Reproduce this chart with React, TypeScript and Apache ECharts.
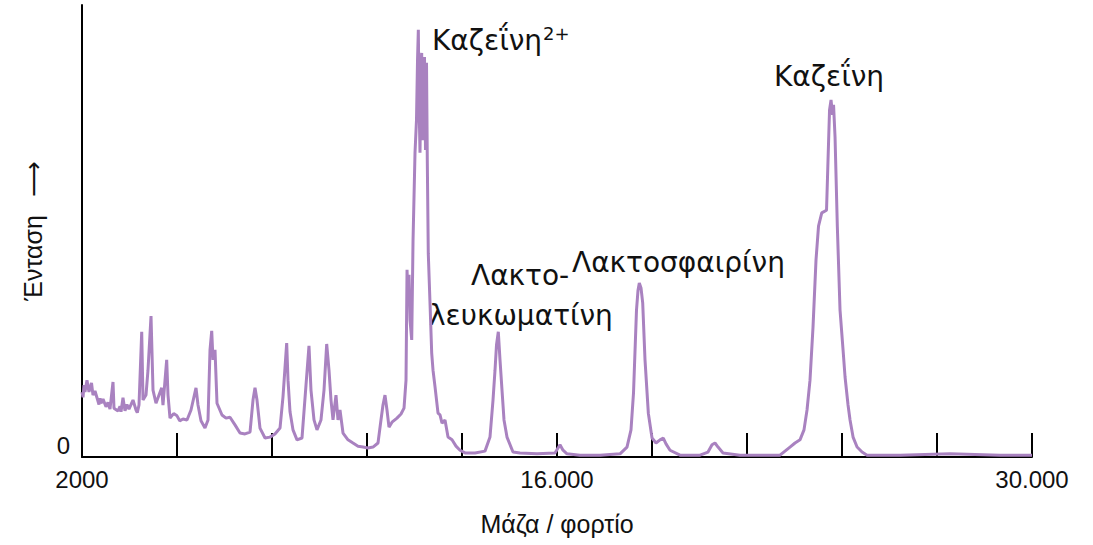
import React, { useEffect, useRef } from "react";
import * as echarts from "echarts";

const massValues = [
  2000, 2030, 2059, 2088, 2147, 2206, 2280, 2324, 2383, 2442, 2500, 2530, 2560, 2620, 2707, 2766, 2825, 2914, 2943, 3061, 3120, 3150, 3208, 3267,
  3325, 3385, 3503, 3592, 3630, 3680, 3760, 3798, 3886, 3945, 4034, 4093, 4181, 4270, 4349, 4387, 4496, 4535,
  4594, 4700, 4800, 4880, 4977, 5095, 5213, 5360, 5419, 5507, 5625, 5714, 5773, 5823, 5861, 5920, 5979, 6126,
  6244, 6362, 6509, 6657, 6804, 6952, 7040, 7099, 7158, 7246, 7394, 7541, 7688, 7836, 7924, 8033,
  8072, 8131, 8219, 8337, 8484, 8602, 8690, 8749, 8838, 8926, 9044, 9133, 9212, 9280, 9339, 9398,
  9486, 9545, 9604, 9693, 9840, 9987, 10135, 10282, 10429, 10577, 10724, 10812, 10871, 10930, 10989,
  11048, 11137, 11284, 11402, 11491, 11550, 11580, 11609, 11639, 11668, 11718, 11757, 11815, 11859,
  11889, 11913, 11933, 11962, 11992, 12012, 12036, 12065, 12095, 12124, 12154, 12177, 12206, 12257,
  12307, 12346, 12405, 12493, 12552, 12611, 12699, 12788, 12906, 13023, 13141, 13289, 13583, 13878,
  14025, 14114, 14173, 14217, 14270, 14320, 14379, 14438, 14526, 14703, 14909, 15410, 15941, 16088,
  16177, 16295, 16678, 17267, 17857, 18063, 18181, 18255, 18343, 18388, 18426, 18476, 18526, 18594,
  18692, 18801, 18918, 19036, 19133, 19213, 19331, 19626, 20215, 20451, 20569, 20657, 20746, 20893,
  21394, 22573, 22867, 23015, 23162, 23280, 23369, 23457, 23546, 23634, 23708, 23803, 23944, 23988,
  24033, 24077, 24121, 24151, 24195, 24263, 24342, 24431, 24490, 24578, 24637, 24726, 24844, 24991,
  25138, 26111, 27584, 29057, 30000,
];

const intensityValues = [
  14.4, 13.2, 15.9, 14.4, 17.0, 14.4, 16.4, 13.7, 14.6, 13.1, 11.6, 13.0, 11.9, 12.8, 11.1, 12.1, 10.6, 16.6, 10.8, 10.2, 11.2, 10.0, 13.1, 10.2,
  11.6, 10.6, 12.6, 10.4, 9.8, 11.5, 27.7, 12.6, 13.7, 19.2, 31.2, 14.8, 11.9, 13.7, 15.3, 11.5, 21.5, 13.7,
  8.6, 9.6, 9.1, 8.0, 8.4, 8.2, 10.4, 15.3, 11.5, 8.0, 6.4, 8.2, 23.7, 27.9, 21.5, 23.7, 11.9, 9.3,
  8.6, 8.8, 7.1, 5.3, 5.1, 5.5, 12.6, 15.3, 12.6, 6.4, 4.2, 4.4, 5.1, 6.4, 13.3, 25.2,
  17.0, 10.0, 6.0, 3.8, 4.2, 15.9, 24.6, 14.8, 8.2, 6.0, 8.2, 14.8, 25.0, 19.2, 12.6, 8.2,
  13.7, 8.2, 10.4, 5.3, 3.8, 3.1, 2.4, 2.2, 2.0, 2.2, 3.1, 8.2, 11.5, 13.7, 10.4,
  6.6, 7.7, 8.6, 9.5, 10.8, 17.0, 41.4, 34.7, 40.3, 30.3, 25.9, 48.0, 67.3, 74.6,
  87.8, 94.5, 79.0, 67.3, 85.6, 89.4, 70.1, 86.7, 88.5, 67.9, 87.2, 65.7, 45.1, 34.1,
  23.0, 19.2, 15.5, 9.7, 9.3, 7.5, 8.2, 4.4, 3.8, 2.4, 1.5, 0.9, 0.9, 1.3,
  4.4, 12.6, 19.2, 24.8, 27.7, 21.5, 14.8, 8.2, 4.4, 1.1, 0.9, 0.7, 0.9, 2.7,
  1.5, 0.7, 0.4, 0.4, 0.7, 2.2, 6.0, 14.2, 32.5, 36.9, 38.5, 37.4, 34.1, 21.5,
  9.7, 4.2, 3.1, 3.8, 4.2, 2.9, 1.5, 0.4, 0.4, 1.1, 2.7, 3.1, 2.2, 0.9,
  0.4, 0.4, 2.2, 3.1, 3.8, 6.0, 10.4, 17.0, 28.8, 43.6, 51.1, 54.0, 54.6, 65.7,
  76.8, 79.0, 75.7, 77.9, 70.8, 50.9, 32.5, 23.7, 17.7, 11.5, 8.2, 4.4, 2.2, 1.1,
  0.4, 0.4, 0.7, 0.4, 0.4,
];

const labeledTicks: Record<number, string> = {
  2000: "2000",
  16000: "16.000",
  30000: "30.000",
};

const xAxisTitle = "Μάζα / φορτίο";
const yAxisTitleText = "Ένταση";
const yAxisArrow = "⟶";

const peakLabels = [
  { text: "Καζεΐνη", sup: "2+", x: 432, y: 40 },
  { text: "Λακτο-", x: 471, y: 275 },
  { text: "λευκωματίνη", x: 429, y: 315 },
  { text: "Λακτοσφαιρίνη", x: 572, y: 262 },
  { text: "Καζεΐνη", x: 774, y: 76 },
];

const annotationFont = "'DejaVu Sans', sans-serif";
const axisFont = "'Liberation Sans', Arial, sans-serif";

export default function App() {
  const ref = useRef<HTMLDivElement>(null);

  useEffect(() => {
    if (!ref.current) return;
    const chart = echarts.init(ref.current, undefined, { renderer: "svg" });

    const graphics: any[] = [];
    peakLabels.forEach((p) => {
      graphics.push({
        type: "text",
        x: p.x,
        y: p.y,
        style: {
          text: p.text,
          fill: "#111",
          font: `28px ${annotationFont}`,
          verticalAlign: "middle",
        },
      });
      if (p.sup) {
        graphics.push({
          type: "text",
          x: p.x + 111,
          y: p.y - 7,
          style: {
            text: p.sup,
            fill: "#111",
            font: `18px ${annotationFont}`,
            verticalAlign: "middle",
          },
        });
      }
    });

    chart.setOption({
      animation: false,
      backgroundColor: "#fff",
      grid: { left: 82, right: 61, top: 5, bottom: 88, outerBoundsMode: "none", containLabel: false },
      xAxis: {
        type: "value",
        min: 2000,
        max: 30000,
        interval: 2800,
        name: xAxisTitle,
        nameLocation: "middle",
        nameGap: 54,
        nameTextStyle: { fontFamily: axisFont, fontSize: 25, color: "#111" },
        axisLine: { show: true, lineStyle: { color: "#000", width: 2 } },
        axisTick: { show: true, inside: true, length: 24, lineStyle: { color: "#000", width: 2 } },
        splitLine: { show: false },
        axisLabel: {
          show: true,
          showMinLabel: true,
          showMaxLabel: true,
          margin: 10,
          fontFamily: axisFont,
          fontSize: 24,
          color: "#111",
          formatter: (v: number) => labeledTicks[Math.round(v)] ?? "",
        },
      },
      yAxis: {
        type: "value",
        min: 0,
        max: 100,
        interval: 100,
        name: `{t|${yAxisTitleText}}{g|}{a|${yAxisArrow}}`,
        nameLocation: "middle",
        nameGap: 36,
        nameRotate: 90,
        nameTextStyle: {
          fontFamily: axisFont,
          fontSize: 25,
          color: "#111",
          rich: {
            t: { fontFamily: axisFont, fontSize: 25, color: "#111" },
            g: { width: 18 },
            a: { fontFamily: "'DejaVu Sans', sans-serif", fontSize: 25, color: "#111" },
          },
        },
        axisLine: { show: true, lineStyle: { color: "#000", width: 2 } },
        axisTick: { show: false },
        splitLine: { show: false },
        axisLabel: {
          margin: 12,
          fontFamily: axisFont,
          fontSize: 24,
          color: "#111",
          verticalAlign: "bottom",
          formatter: (v: number) => (v === 0 ? "0" : ""),
        },
      },
      series: [
        {
          type: "line",
          data: massValues.map((m, i) => [m, intensityValues[i]]),
          showSymbol: false,
          symbol: "none",
          lineStyle: { color: "#a982c0", width: 3 },
          z: 1,
        },
      ],
      graphic: graphics,
    });

    return () => chart.dispose();
  }, []);

  return <div ref={ref} style={{ width: 1093, height: 545, position: "absolute", left: 0, top: 0 }} />;
}
